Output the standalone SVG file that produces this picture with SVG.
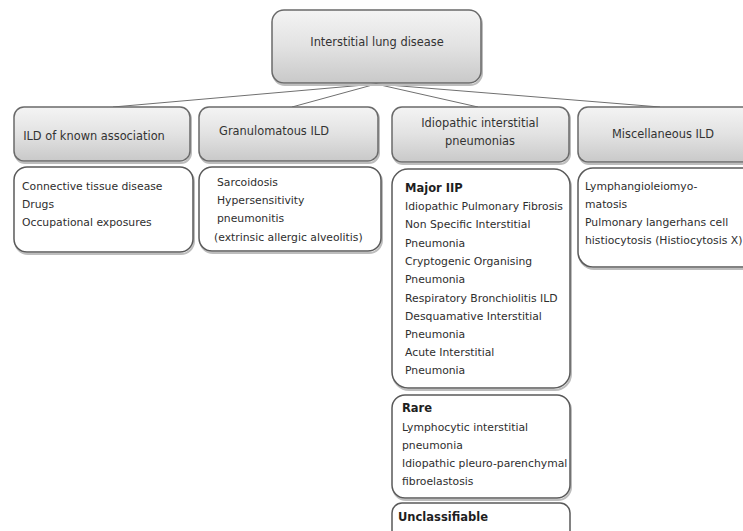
<svg xmlns="http://www.w3.org/2000/svg" width="743" height="531" viewBox="0 0 743 531">
<defs>
<linearGradient id="hdr" x1="0" y1="0" x2="0" y2="1">
<stop offset="0" stop-color="#f4f4f4"/>
<stop offset="0.5" stop-color="#e2e2e2"/>
<stop offset="1" stop-color="#c9c9c9"/>
</linearGradient>
</defs>
<style>
.hdr{fill:url(#hdr);stroke:#6a6a6a;stroke-width:1.5}
.hs{fill:none;stroke:#bdbdbd;stroke-width:2}
.det{fill:#ffffff;stroke:#5a5a5a;stroke-width:1.5}
.t{font-family:"DejaVu Sans","Liberation Sans",sans-serif;font-size:10.8px;fill:#2e2e2e}
.h{font-size:11.4px;fill:#333333}
.c{text-anchor:middle}
.b{font-weight:bold;font-size:11.5px;fill:#1e1e1e}
.conn{fill:none;stroke:#707070;stroke-width:1}
</style>
<rect width="743" height="531" fill="#ffffff"/>
<g id="connectors">
<path class="conn" d="M376,84 L113,107"/>
<path class="conn" d="M376,84 L292,107"/>
<path class="conn" d="M376,84 L478,107"/>
<path class="conn" d="M376,84 L660,107"/>
</g>
<g id="root">
<rect class="hs" x="273" y="12" width="209" height="73" rx="12"/>
<rect class="hdr" x="272" y="10" width="209" height="73" rx="12"/>
<text class="t h c" x="377" y="46">Interstitial lung disease</text>
</g>
<g id="known">
<rect class="hs" x="15" y="109" width="176" height="54" rx="10"/>
<rect class="hdr" x="14" y="107" width="176" height="54" rx="10"/>
<text class="t h c" x="94" y="140">ILD of known association</text>
</g>
<g id="granulomatous">
<rect class="hs" x="200" y="109" width="179" height="54" rx="10"/>
<rect class="hdr" x="199" y="107" width="179" height="54" rx="10"/>
<text class="t h c" x="274" y="135">Granulomatous ILD</text>
</g>
<g id="iip">
<rect class="hs" x="393" y="109" width="177" height="55" rx="10"/>
<rect class="hdr" x="392" y="107" width="177" height="55" rx="10"/>
<text class="t h c" x="480" y="127">Idiopathic interstitial</text>
<text class="t h c" x="480" y="145">pneumonias</text>
</g>
<g id="misc">
<rect class="hs" x="579" y="109" width="177" height="55" rx="10"/>
<rect class="hdr" x="578" y="107" width="177" height="55" rx="10"/>
<text class="t h c" x="663" y="138">Miscellaneous ILD</text>
</g>
<g id="known-detail">
<rect class="hs" x="15" y="169" width="179" height="85" rx="13"/>
<rect class="det" x="14" y="167" width="179" height="85" rx="13"/>
<text class="t" x="22" y="190">Connective tissue disease</text>
<text class="t" x="22" y="208">Drugs</text>
<text class="t" x="22" y="226">Occupational exposures</text>
</g>
<g id="granulomatous-detail">
<rect class="hs" x="200" y="169" width="182" height="84" rx="13"/>
<rect class="det" x="199" y="167" width="182" height="84" rx="13"/>
<text class="t" x="217" y="186">Sarcoidosis</text>
<text class="t" x="217" y="204">Hypersensitivity</text>
<text class="t" x="217" y="222">pneumonitis</text>
<text class="t" x="214" y="241">(extrinsic allergic alveolitis)</text>
</g>
<g id="iip-major">
<rect class="hs" x="393" y="171" width="178" height="219" rx="16"/>
<rect class="det" x="392" y="169" width="178" height="219" rx="16"/>
<text class="t b" x="405" y="192">Major IIP</text>
<text class="t" x="405" y="210">Idiopathic Pulmonary Fibrosis</text>
<text class="t" x="405" y="228">Non Specific Interstitial</text>
<text class="t" x="405" y="247">Pneumonia</text>
<text class="t" x="405" y="265">Cryptogenic Organising</text>
<text class="t" x="405" y="283">Pneumonia</text>
<text class="t" x="405" y="302">Respiratory Bronchiolitis ILD</text>
<text class="t" x="405" y="320">Desquamative Interstitial</text>
<text class="t" x="405" y="338">Pneumonia</text>
<text class="t" x="405" y="356">Acute Interstitial</text>
<text class="t" x="405" y="374">Pneumonia</text>
</g>
<g id="iip-rare">
<rect class="hs" x="393" y="397" width="178" height="103" rx="13"/>
<rect class="det" x="392" y="395" width="178" height="103" rx="13"/>
<text class="t b" x="402" y="412">Rare</text>
<text class="t" x="402" y="431">Lymphocytic interstitial</text>
<text class="t" x="402" y="449">pneumonia</text>
<text class="t" x="402" y="467">Idiopathic pleuro-parenchymal</text>
<text class="t" x="402" y="485">fibroelastosis</text>
</g>
<g id="iip-unclassifiable">
<rect class="det" x="392" y="503" width="178" height="60" rx="10"/>
<text class="t b" x="398" y="521">Unclassifiable</text>
</g>
<g id="misc-detail">
<rect class="hs" x="579" y="170" width="180" height="99" rx="15"/>
<rect class="det" x="578" y="168" width="180" height="99" rx="15"/>
<text class="t" x="585" y="190">Lymphangioleiomyo-</text>
<text class="t" x="585" y="208">matosis</text>
<text class="t" x="585" y="226">Pulmonary langerhans cell</text>
<text class="t" x="585" y="244">histiocytosis (Histiocytosis X)</text>
</g>
</svg>
